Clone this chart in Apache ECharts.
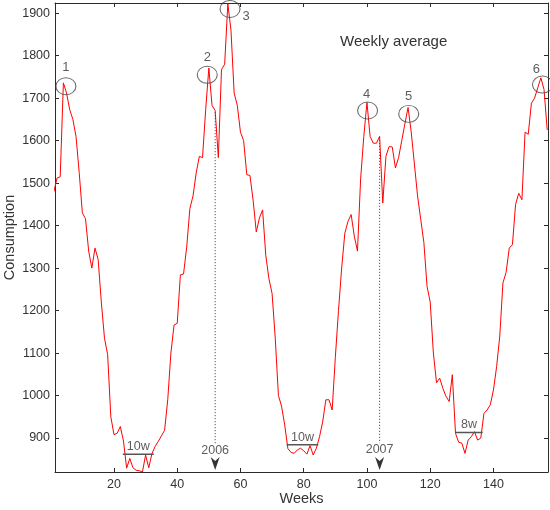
<!DOCTYPE html>
<html><head><meta charset="utf-8">
<script src="https://cdn.jsdelivr.net/npm/echarts@6/dist/echarts.min.js"></script>
<style>html,body{margin:0;padding:0;background:#fff}#c{width:550px;height:510px}</style>
</head><body><div id="c"></div>
<script>
// Weekly average consumption, weeks 1..157
const consumption = [
 1480,1512,1515,1736,1712,1673,1650,1610,1525,1430,
 1416,1340,1300,1347,1320,1220,1135,1096,950,908,
 911,927,893,829,852,830,824,823,820,860,
 830,863,880,892,905,918,990,1100,1166,1170,
 1284,1286,1350,1440,1470,1524,1563,1560,1673,1771,
 1683,1671,1560,1767,1780,1922,1860,1712,1683,1620,
 1600,1520,1518,1460,1385,1418,1437,1330,1275,1240,
 1135,1000,975,930,875,866,864,872,876,870,
 862,882,860,876,903,938,990,990,966,1090,
 1200,1300,1382,1410,1426,1375,1340,1510,1610,1690,
 1610,1594,1594,1610,1453,1563,1586,1585,1536,1560,
 1600,1640,1678,1620,1545,1470,1415,1360,1257,1220,
 1100,1030,1041,1017,998,986,1049,911,890,888,
 864,895,903,915,895,900,958,966,978,1013,
 1068,1140,1265,1290,1347,1355,1450,1476,1461,1620,
 1615,1688,1700,1724,1748,1720,1625
];
const xTicks = [20,40,60,80,100,120,140];
const yTicks = [900,1000,1100,1200,1300,1400,1500,1600,1700,1800,1900];

const peakLabels = ['1','2','3','4','5','6'];
const peakCircleX = [4.8,49.5,56.7,100.2,113.2,155.5];
const peakCircleY = [1728,1755,1910,1671,1663,1732];

const spanLabels = ['10w','10w','8w'];
const spanStart = [22.8,74.6,128];
const spanEnd = [32.6,84.6,136.6];
const spanLevel = [862,884,913];

const yearLabels = ['2006','2007'];
const yearWeek = [52,104];
const yearLineTop = [1667,1609];
const yearLineBottom = [884,888];
const yearLabelY = [870,874];
const arrowY = [840,840];

const FONT = '"Liberation Sans", Arial, sans-serif';
const TXT = '#333';
const AX = '#2b2b2b';
const X_MIN = 1.35, X_MAX = 157.25, Y_MIN = 820, Y_MAX = 1924;

const peakOffsets = [[0,-18.5],[0,-17],[16,7],[-1,-16],[0,-17],[-6,-15]];

const chart = echarts.init(document.getElementById('c'), null, {renderer:'canvas'});

function xAxisCfg(pos, showLabels){
  return {
    type:'value', position:pos, min:X_MIN, max:X_MAX,
    axisLine:{show:true, onZero:false, lineStyle:{color:AX, width:1}},
    axisTick:{show:true, inside:true, length:4, customValues:xTicks, lineStyle:{color:AX}},
    axisLabel:{show:showLabels, customValues:xTicks, margin:6, color:TXT, fontSize:12.5, fontFamily:FONT,
      formatter:v=>String(v)},
    splitLine:{show:false},
    name: showLabels ? 'Weeks' : '', nameLocation:'middle', nameGap:19, nameMoveOverlap:false,
    nameTextStyle:{color:TXT, fontSize:14.5, fontFamily:FONT}
  };
}
function yAxisCfg(pos, showLabels){
  return {
    type:'value', position:pos, min:Y_MIN, max:Y_MAX,
    axisLine:{show:true, onZero:false, lineStyle:{color:AX, width:1}},
    axisTick:{show:true, inside:true, length:4, customValues:yTicks, lineStyle:{color:AX}},
    axisLabel:{show:showLabels, customValues:yTicks, margin:5, color:TXT, fontSize:12.5, fontFamily:FONT,
      formatter:v=>String(v)},
    splitLine:{show:false},
    name: showLabels ? 'Consumption' : '', nameLocation:'middle', nameGap:38, nameRotate:90, nameMoveOverlap:false,
    nameTextStyle:{color:TXT, fontSize:14.5, fontFamily:FONT}
  };
}

const series = [];
series.push({
  type:'line', xAxisIndex:0, yAxisIndex:0,
  data: consumption.map((v,i)=>[i+1, v]),
  showSymbol:false, symbol:'none', clip:true,
  lineStyle:{color:'#ff0000', width:1}, z:3, animation:false
});
yearWeek.forEach((w,i)=>{
  series.push({type:'line', data:[[w,yearLineTop[i]],[w,yearLineBottom[i]]], symbol:'none',
    lineStyle:{color:'#333', width:1, type:[1,2]}, z:2, animation:false});
});
spanStart.forEach((s,i)=>{
  series.push({type:'line', data:[[s,spanLevel[i]],[spanEnd[i],spanLevel[i]]], symbol:'none',
    lineStyle:{color:'#555', width:1.5}, z:4, animation:false});
});
series.push({type:'scatter', symbolSize:0, clip:false, animation:false, z:5,
  data: spanLabels.map((t,i)=>({value:[(spanStart[i]+spanEnd[i])/2, spanLevel[i]], name:t})),
  label:{show:true, position:'inside', offset:[0,-7.5], formatter:p=>p.name, color:TXT, fontSize:12.5, fontFamily:FONT}
});
series.push({type:'scatter', clip:false, animation:false, z:6,
  symbol:'circle', symbolSize:[20,17],
  itemStyle:{color:'rgba(0,0,0,0)', borderColor:'#444', borderWidth:1},
  data: peakLabels.map((t,i)=>({value:[peakCircleX[i], peakCircleY[i]], name:t,
    label:{offset:peakOffsets[i]}})),
  label:{show:true, position:'inside', formatter:p=>p.name, color:TXT, fontSize:13, fontFamily:FONT}
});
series.push({type:'scatter', symbolSize:0, clip:false, animation:false, z:5,
  data: yearLabels.map((t,i)=>({value:[yearWeek[i], yearLabelY[i]], name:t})),
  label:{show:true, position:'inside', formatter:p=>p.name, color:TXT, fontSize:12.5, fontFamily:FONT}
});
series.push({type:'scatter', clip:false, animation:false, z:5,
  symbol:'path://M0,0 L5,4 L10,0 L5,13 Z', symbolSize:[9,13],
  itemStyle:{color:'#000'},
  data: yearWeek.map((w,i)=>[w, arrowY[i]])
});

chart.setOption({
  animation:false,
  backgroundColor:'#fff',
  title:{text:'Weekly average', left:335, top:29,
    textStyle:{color:TXT, fontSize:15, fontWeight:'normal', fontFamily:FONT}},
  grid:{left:55, right:2, top:3, bottom:38, containLabel:false, outerBoundsMode:'none'},
  xAxis:[xAxisCfg('bottom', true), xAxisCfg('top', false)],
  yAxis:[yAxisCfg('left', true), yAxisCfg('right', false)],
  series
});
</script>
</body></html>
